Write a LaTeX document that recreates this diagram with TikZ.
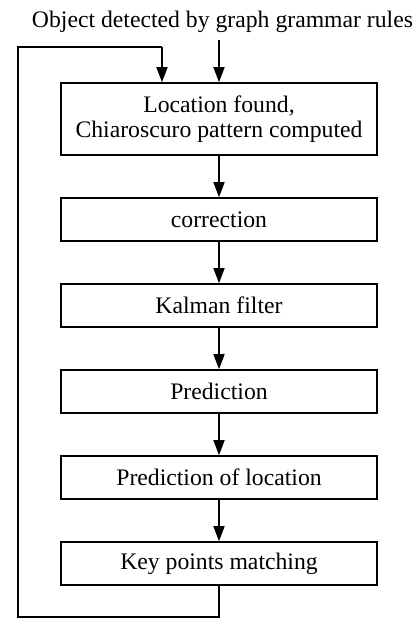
\documentclass[tikz,border=0pt]{standalone}
\usepackage{fontspec}
\setmainfont{Liberation Serif}
\usetikzlibrary{arrows.meta}
\begin{document}
\begin{tikzpicture}[x=1pt,y=1pt,
  every node/.style={font=\fontsize{23.7}{25}\selectfont},
  stepbox/.style={draw,line width=1.6pt,minimum width=316pt,minimum height=43pt,inner sep=0pt,align=center},
  conn/.style={line width=1.6pt},
  arr/.style={conn,-{Triangle[length=15pt,width=11pt]}}]
\useasboundingbox (0,0) rectangle (417,-619);
\node (title) at (222.5,-22) {Object detected by graph grammar rules};
\node[stepbox,minimum height=72pt] (b1) at (219,-119) {Location found,\\Chiaroscuro pattern computed};
\node[stepbox] (b2) at (219,-219.5) {correction};
\node[stepbox] (b3) at (219,-305.5) {Kalman filter};
\node[stepbox] (b4) at (219,-391.5) {Prediction};
\node[stepbox] (b5) at (219,-477.5) {Prediction of location};
\node[stepbox] (b6) at (219,-563.5) {Key points matching};
\coordinate (s) at (219,-40);
\coordinate (fb) at (162,-47);
\coordinate (ll) at (18,-617);
\draw[arr] (s) -- (b1.north -| s);
\draw[arr] (b1) -- (b2);
\draw[arr] (b2) -- (b3);
\draw[arr] (b3) -- (b4);
\draw[arr] (b4) -- (b5);
\draw[arr] (b5) -- (b6);
\draw[conn] (b6.south) |- (ll) |- (fb);
\draw[arr] (fb) -- (fb |- b1.north);
\end{tikzpicture}
\end{document}
